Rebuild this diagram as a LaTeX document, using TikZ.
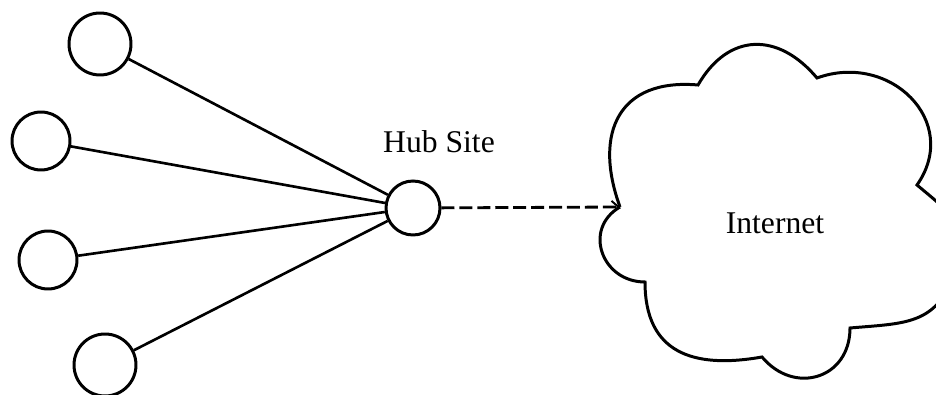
\documentclass[tikz,border=0pt]{standalone}
\usepackage{fontspec}
\setmainfont{Liberation Serif}
\usetikzlibrary{arrows.meta}
\tikzset{
  site/.style={circle,draw,line width=1.7pt,minimum size=1.2cm,inner sep=0pt},
  hubsite/.style={circle,draw,line width=1.7pt,minimum size=1.08cm,inner sep=0pt},
  link/.style={line width=1.5pt},
  uplink/.style={line width=1.6pt,dash pattern=on 7.4pt off 2.8pt,
    -{Straight Barb[length=4pt,width=7pt,line width=1.1pt]}},
  cloudline/.style={line width=1.7pt,line join=miter},
  lbl/.style={font=\fontsize{18}{20}\selectfont}
}
\begin{document}
\begin{tikzpicture}[x=0.02cm,y=0.02cm]
\useasboundingbox (0,0) rectangle (936,395);
\clip (0,0) rectangle (936,395);

% remote sites
\node[site,minimum size=1.24cm] (s1) at (100,351) {};
\node[site,minimum size=1.16cm] (s2) at (41,254) {};
\node[site,minimum size=1.16cm] (s3) at (48,135) {};
\node[site,minimum size=1.24cm] (s4) at (105,30) {};

% hub
\node[hubsite] (hub) at (413,187) {};
\node[lbl,anchor=base] (hublbl) at (439,242) {Hub Site};

\foreach \s in {s1,s2,s3,s4} \draw[link] (\s) -- (hub);

% cloud outline
\coordinate (A) at (620,188);
\coordinate (B) at (698,310);
\coordinate (C) at (817,317);
\coordinate (D) at (917,210);
\coordinate (E) at (955,122);
\coordinate (F) at (850,67);
\coordinate (G) at (762,38);
\coordinate (H) at (645,113);
\draw[cloudline]
  (A) to[out=110,in=175,looseness=1.4] (B)
      to[out=60,in=130,looseness=1.3] (C)
      to[out=20,in=55,looseness=1.35] (D)
      to[out=-40,in=70,looseness=1.3] (E)
      to[out=-110,in=5,looseness=1.2] (F)
      to[out=-90,in=-50,looseness=1.4] (G)
      to[out=190,in=-90,looseness=1.3] (H)
      to[out=180,in=210,looseness=1.4] (A);
\node[lbl] (inet) at (775,172) {Internet};

% uplink to the internet
\draw[uplink] (hub) -- (A);
\end{tikzpicture}
\end{document}
